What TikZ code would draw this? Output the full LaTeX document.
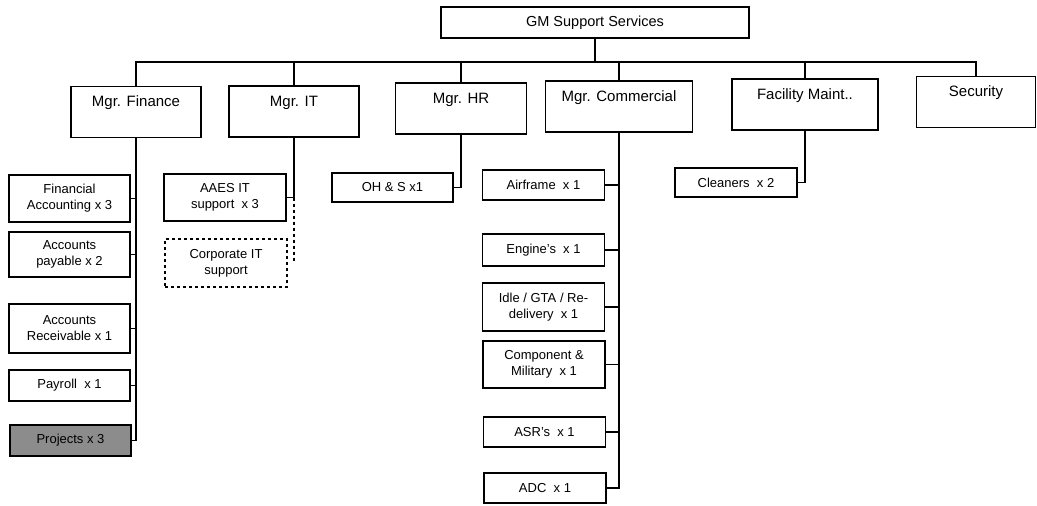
\documentclass[tikz,border=0pt]{standalone}
\usepackage{fontspec}
\setmainfont{Liberation Sans}
\usepackage{tikz}
\usetikzlibrary{positioning}

\begin{document}
\begin{tikzpicture}[x=1pt, y=-1pt,
        topbox/.style={rectangle, draw=black, fill=white, line width=1.4pt, minimum width=308pt, minimum height=31pt, font=\fontsize{14.5}{17}\selectfont},
        mgrbox/.style={rectangle, draw=black, fill=white, line width=1.4pt, inner ysep=0pt, text height=20pt, text depth=31pt, font=\fontsize{15}{18}\selectfont},
        staffbox/.style={rectangle, draw=black, fill=white, line width=1.4pt, minimum width=121pt, align=center, inner sep=2pt, font=\fontsize{13}{16}\selectfont},
        link/.style={line width=1.2pt}]
        \useasboundingbox (0,0) rectangle (1037,506);
        % Nodes
        \node[topbox] (gm) at (595,22.5) {GM Support Services};
        \node[mgrbox, minimum width=130pt] (fin) at (136,112) {Mgr. Finance};
        \node[mgrbox, minimum width=130pt] (it) at (294,111.5) {Mgr. IT};
        \node[mgrbox, minimum width=131pt] (hr) at (461,108.5) {Mgr. HR};
        \node[mgrbox, minimum width=147pt] (com) at (619,106.5) {Mgr. Commercial};
        \node[mgrbox, minimum width=146pt] (fac) at (805,104.5) {Facility Maint..};
        \node[mgrbox, minimum width=119pt] (sec) at (976,102) {Security};

        \node[staffbox, minimum height=47pt] (fa) at (69.5,198.5) {Financial\\Accounting x 3};
        \node[staffbox, minimum height=45pt] (ap) at (69.5,254.5) {Accounts\\payable x 2};
        \node[staffbox, minimum height=49pt] (ar) at (69.5,328.5) {Accounts\\Receivable x 1};
        \node[staffbox, minimum height=31pt] (pay) at (69.5,385.5) {Payroll\ \ x 1};
        \node[staffbox, minimum height=31pt, fill=black!45] (prj) at (70.5,440.5) {Projects x 3};

        \node[staffbox, minimum width=122pt, minimum height=47pt] (aaes) at (225,197.5) {AAES IT\\support\ \ x 3};
        \node[staffbox, minimum width=122pt, minimum height=48pt, dashed] (corp) at (226,263) {Corporate IT\\support};

        \node[staffbox, minimum height=29pt] (ohs) at (392.5,187.5) {OH \& S x1};

        \node[staffbox, minimum width=122pt, minimum height=30pt] (air) at (543.5,185) {Airframe\ \ x 1};
        \node[staffbox, minimum width=122pt, minimum height=32pt] (eng) at (543.5,250) {Engine's\ \ x 1};
        \node[staffbox, minimum width=122pt, minimum height=48pt] (idle) at (543.5,307) {Idle / GTA / Re-\\delivery\ \ x 1};
        \node[staffbox, minimum width=122pt, minimum height=47pt] (cmp) at (544,364.5) {Component \&\\Military\ \ x 1};
        \node[staffbox, minimum width=122pt, minimum height=30pt] (asr) at (544.5,432) {ASR's\ \ x 1};
        \node[staffbox, minimum width=122pt, minimum height=30pt] (adc) at (545,488) {ADC\ \ x 1};

        \node[staffbox, minimum width=122pt, minimum height=29pt] (cln) at (736,182.5) {Cleaners\ \ x 2};

        \coordinate (bus) at (595,62);
        \coordinate (itend) at (294,262);

        % Edges
        \draw[link] (gm.south) -- (bus);
        \draw[link] (fin.north) |- (bus) -| (sec.north);
        \draw[link] (it.north) -- (it.north |- bus);
        \draw[link] (hr.north) -- (hr.north |- bus);
        \draw[link] (com.north) -- (com.north |- bus);
        \draw[link] (fac.north) -- (fac.north |- bus);

        \draw[link] (fin.south) |- (prj.east);
        \draw[link] (fa.east) -- (fa.east -| fin.south);
        \draw[link] (ap.east) -- (ap.east -| fin.south);
        \draw[link] (ar.east) -- (ar.east -| fin.south);
        \draw[link] (pay.east) -- (pay.east -| fin.south);

        \draw[link] (it.south) |- (aaes.east);
        \draw[link, dashed] (aaes.east -| it.south) -- (itend);

        \draw[link] (hr.south) |- (ohs.east);

        \draw[link] (com.south) |- (adc.east);
        \draw[link] (air.east) -- (air.east -| com.south);
        \draw[link] (eng.east) -- (eng.east -| com.south);
        \draw[link] (idle.east) -- (idle.east -| com.south);
        \draw[link] (cmp.east) -- (cmp.east -| com.south);
        \draw[link] (asr.east) -- (asr.east -| com.south);

        \draw[link] (fac.south) |- (cln.east);
    \end{tikzpicture}
\end{document}
